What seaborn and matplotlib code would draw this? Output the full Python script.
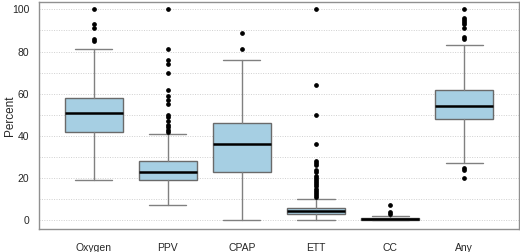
import matplotlib
matplotlib.use("Agg")
import matplotlib.pyplot as plt
import seaborn as sns

# --- DATA ---
groups = ["Oxygen", "PPV", "CPAP", "ETT", "CC", "Any"]
whis_lo = [19, 7, 0, 0, 0, 27]
q1 = [42, 19, 23, 3, 0, 48]
medians = [51, 23, 36, 4.3, 0.8, 54]
q3 = [58, 28, 46, 6, 1.2, 62]
whis_hi = [81, 41, 76, 10, 2, 83]
fliers = [
    [85, 86, 91, 93, 100],
    [42, 43, 44, 45, 47, 49, 50, 55, 57, 59, 62, 70, 74, 76, 81, 100],
    [81, 89],
    [11, 12, 13, 14, 15, 16, 17, 18, 19, 20, 21, 23, 24, 26, 27, 28, 36, 50, 64, 100],
    [3, 4, 7],
    [20, 24, 25, 86, 87, 91, 93, 94, 95, 96, 100],
]

sns.set_style("white")
plt.rcParams["font.family"] = ["Liberation Sans", "DejaVu Sans"]

stats = []
for i, g in enumerate(groups):
    stats.append(dict(label=g, whislo=whis_lo[i], q1=q1[i], med=medians[i],
                      q3=q3[i], whishi=whis_hi[i], fliers=fliers[i]))

fig = plt.figure(figsize=(5.2, 2.52), dpi=100)
ax = fig.add_axes([0.075, 0.091, 0.923, 0.901])

# dotted reference lines every 10
for y in range(0, 101, 10):
    ax.axhline(y, color="#d0d0d0", lw=0.7, ls=(0, (1, 1.5)), zorder=0)

ax.bxp(stats, positions=range(len(groups)), widths=0.78, patch_artist=True,
       boxprops=dict(facecolor="#a6cfe3", edgecolor="#6a6a6a", lw=1.0),
       medianprops=dict(color="black", lw=1.8),
       whiskerprops=dict(color="#808080", lw=1.0),
       capprops=dict(color="#808080", lw=1.0),
       flierprops=dict(marker="o", markersize=2.4, markerfacecolor="black",
                       markeredgecolor="black", ls="none"),
       capwidths=0.5)

ax.set_xlim(-0.74, 5.74)
ax.set_ylim(-4.2, 103.5)
ax.set_yticks([0, 20, 40, 60, 80, 100])
ax.set_ylabel("Percent", fontsize=8.5)
ax.yaxis.set_label_coords(-0.047, 0.5)
ax.tick_params(axis="y", labelsize=7.5, length=4, color="#808080", pad=3)
ax.tick_params(axis="x", labelsize=7.5, length=0, pad=10)
for s in ax.spines.values():
    s.set_color("#909090")
    s.set_linewidth(1.0)

fig.savefig("out.png", dpi=100)
